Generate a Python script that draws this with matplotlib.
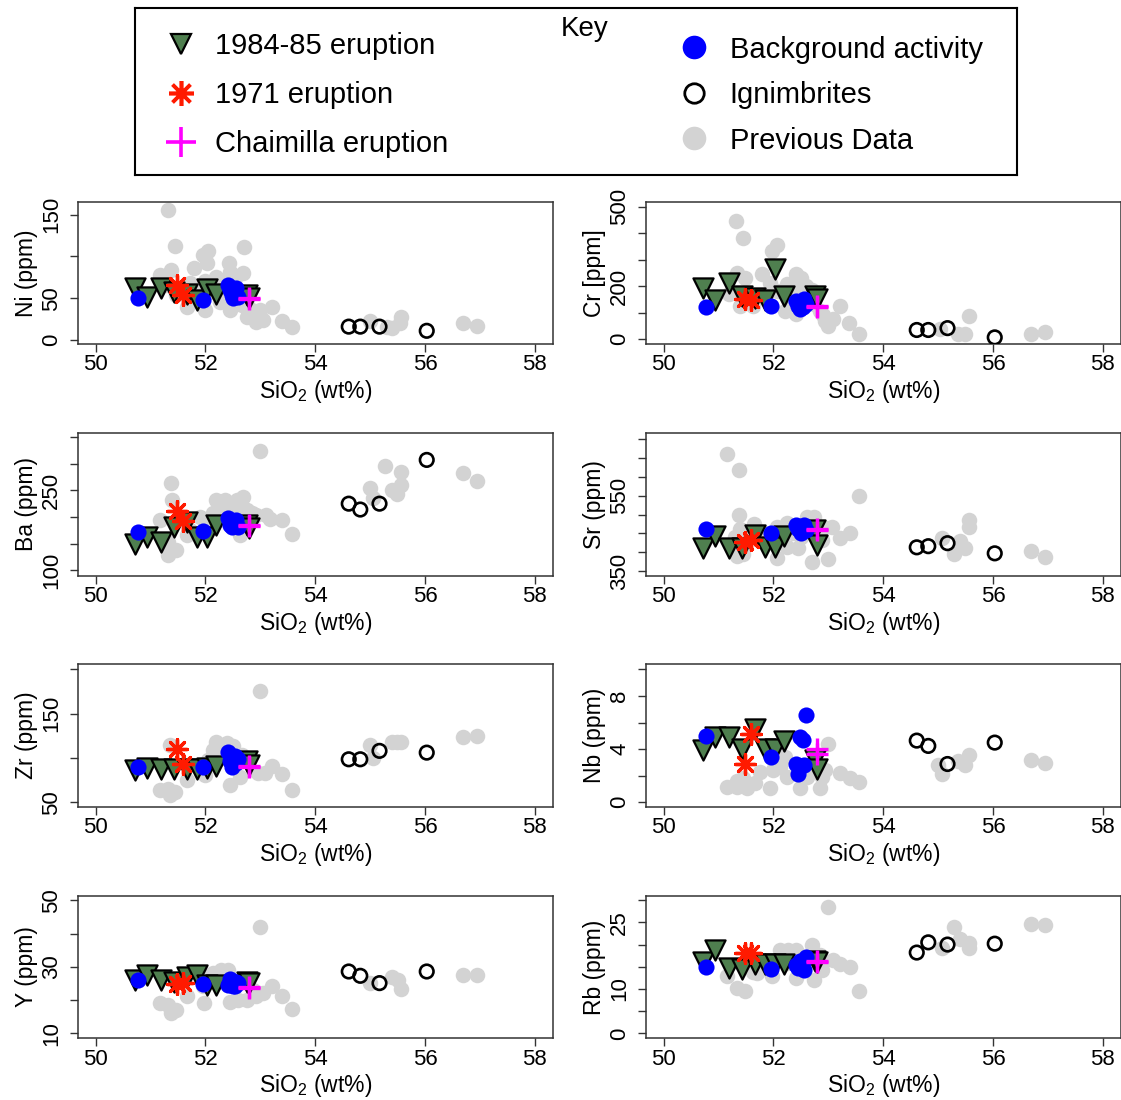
import matplotlib
matplotlib.use('Agg')
import matplotlib.pyplot as plt
from matplotlib.lines import Line2D

plt.rcParams['font.family'] = ['Liberation Sans', 'DejaVu Sans']
plt.rcParams['mathtext.default'] = 'regular'

# --- sample groups (SiO2 wt%) ---
sio2_8485 = [50.72, 50.94, 51.19, 51.42, 51.66, 51.85, 52.02, 52.2, 52.76, 52.8]
sio2_1971 = [51.48, 51.6]
sio2_chaim = [52.8, 52.8]
sio2_bg = [50.77, 51.95, 52.42, 52.45, 52.48, 52.5, 52.53, 52.56, 52.6]
sio2_ign = [54.61, 54.82, 55.17, 56.03]

# --- Ni ---
ni_8485 = [62, 52, 62, 58, 55, 48, 61, 55, 54, 50]
ni_1971 = [66, 54]
ni_chaim = [49, 50]
ni_bg = [50, 48, 66, 60, 54, 50, 58, 62, 52]
ni_ign = [16, 16, 16, 11]
prev_ni_x = [51.32, 51.44, 51.96, 52.05, 52.70, 52.03, 52.43, 51.80, 51.38, 51.17, 51.99, 52.20, 52.45, 52.69,
             52.36, 52.54, 51.29, 51.72, 51.47, 51.66, 51.99, 52.26, 52.45, 52.66, 52.75, 52.93, 53.05, 53.22,
             53.39, 53.57, 55.0, 55.39, 55.57, 55.54, 56.69, 56.94, 52.87, 52.99, 52.57, 52.14, 52.3, 52.6,
             52.8, 51.9, 55.3]
prev_ni = [156, 112, 102, 107, 111, 92, 92, 86, 84, 78, 71, 76, 82, 80, 72, 74, 66, 68, 54, 40, 36, 46, 36, 42,
           28, 22, 24, 40, 23, 15, 23, 14, 28, 20, 20, 17, 32, 36, 58, 58, 62, 48, 38, 64, 16]

# --- Cr ---
cr_8485 = [191, 146, 212, 162, 156, 146, 266, 162, 162, 150]
cr_1971 = [150, 146]
cr_chaim = [121, 125]
cr_bg = [119, 125, 144, 125, 112, 137, 119, 150, 131]
cr_ign = [34, 34, 41, 6]
prev_cr_x = [51.32, 51.45, 51.98, 52.07, 51.33, 51.48, 51.79, 51.93, 52.42, 52.51, 52.70, 52.24, 52.36, 51.39,
             51.63, 52.21, 52.42, 52.73, 52.85, 52.94, 53.0, 53.09, 53.21, 53.38, 53.56, 55.04, 55.37, 55.49,
             55.57, 56.69, 56.95, 52.07, 51.2, 52.6, 52.3, 52.9]
prev_cr = [446, 381, 334, 354, 250, 229, 246, 212, 244, 231, 187, 206, 187, 125, 125, 106, 94, 131, 106, 69, 50,
           75, 125, 59, 19, 37, 19, 19, 87, 19, 25, 181, 170, 200, 150, 90]

# --- Ba ---
ba_8485 = [150, 163, 153, 181, 190, 163, 163, 185, 185, 180]
ba_1971 = [211, 193]
ba_chaim = [183, 185]
ba_bg = [172, 174, 199, 185, 181, 188, 191, 194, 182]
ba_ign = [225, 214, 225, 307]
prev_ba_x = [52.99, 51.38, 51.40, 51.17, 51.32, 51.32, 51.47, 51.66, 52.20, 52.36, 52.57, 52.69, 52.14, 52.45,
             52.75, 52.93, 53.11, 53.17, 53.39, 53.57, 52.63, 52.69, 52.29, 51.90, 55.27, 55.57, 55.0, 55.06,
             55.39, 55.57, 55.48, 56.69, 56.94, 51.72, 52.05, 52.5, 52.85]
prev_ba = [324, 264, 232, 195, 153, 128, 138, 166, 232, 231, 232, 238, 207, 210, 213, 203, 203, 197, 194, 168,
           166, 216, 216, 200, 295, 285, 254, 235, 250, 260, 244, 283, 267, 175, 194, 222, 208]

# --- Sr ---
sr_8485 = [410, 443, 410, 410, 446, 415, 415, 443, 459, 419]
sr_1971 = [428, 432]
sr_chaim = [459, 461]
sr_bg = [462, 450, 472, 463, 459, 450, 463, 472, 460]
sr_ign = [413, 416, 424, 397]
prev_sr_x = [51.16, 51.38, 53.56, 51.38, 51.65, 51.39, 51.30, 51.33, 51.45, 52.06, 52.06, 52.24, 52.36, 52.61,
             52.73, 52.91, 53.06, 53.21, 53.40, 52.70, 53.0, 52.24, 52.45, 52.88, 52.12, 55.07, 55.28, 55.40,
             55.49, 55.57, 55.57, 56.69, 56.95, 52.5, 51.8]
prev_sr = [661, 620, 549, 499, 475, 463, 441, 390, 395, 384, 468, 477, 450, 494, 494, 468, 468, 437, 452, 375,
           381, 415, 410, 432, 432, 439, 395, 431, 410, 487, 466, 404, 386, 440, 455]

# --- Zr ---
zr_8485 = [86, 89, 88, 88, 88, 88, 89, 91, 96, 92]
zr_1971 = [110, 93]
zr_chaim = [90, 91]
zr_bg = [90, 90, 107, 96, 90, 100, 102, 94, 99]
zr_ign = [98.5, 98.5, 108, 106]
prev_zr_x = [52.99, 51.35, 52.2, 52.39, 52.14, 52.51, 52.66, 52.96, 53.08, 53.22, 53.39, 53.57, 52.45, 52.63,
             51.66, 51.99, 51.17, 51.32, 51.44, 51.35, 55.0, 55.06, 55.39, 55.57, 56.69, 56.94, 52.05, 52.32, 55.48]
prev_zr = [175, 115, 118.5, 117, 109, 113, 103, 83, 83, 91, 82, 64, 69, 79, 75, 81, 64, 65.5, 62, 58, 115, 100,
           118.5, 118.5, 124, 125, 98, 111, 118.5]

# --- Nb ---
nb_8485 = [3.9, 4.9, 4.9, 4.0, 5.5, 4.0, 4.0, 4.6, 3.2, 2.5]
nb_1971 = [2.9, 5.1]
nb_chaim = [3.6, 4.0]
nb_bg = [5.0, 3.4, 2.9, 2.1, 4.9, 2.7, 4.7, 2.8, 6.6]
nb_ign = [4.64, 4.24, 2.88, 4.49]
prev_nb_x = [53.0, 51.16, 51.33, 51.45, 51.66, 51.94, 51.76, 52.0, 52.12, 52.22, 52.24, 52.48, 52.85, 52.88,
             52.94, 53.21, 53.40, 53.56, 55.0, 55.07, 55.37, 55.49, 55.57, 56.69, 56.95, 52.61, 51.51, 51.33]
prev_nb = [4.39, 1.13, 1.63, 1.80, 1.43, 1.05, 2.31, 2.43, 2.68, 3.38, 1.93, 1.05, 1.05, 1.93, 2.43, 2.18, 1.80,
           1.55, 2.81, 2.13, 3.13, 2.81, 3.56, 3.18, 2.93, 1.93, 1.05, 1.18]

# --- Y ---
y_8485 = [26, 27.6, 25.9, 25.5, 27, 27.6, 24.6, 24.6, 25.3, 25]
y_1971 = [24.9, 25.1]
y_chaim = [23.6, 24]
y_bg = [25.9, 24.9, 24.6, 26.3, 25.6, 24.1, 24.1, 25.3, 25.1]
y_ign = [28.6, 27.3, 25.1, 28.6]
prev_y_x = [52.99, 52.14, 52.29, 52.41, 51.96, 51.66, 51.98, 52.45, 52.60, 52.75, 52.93, 53.05, 53.22, 53.39,
            53.57, 51.17, 51.32, 51.38, 51.47, 55.0, 55.39, 55.51, 55.57, 56.69, 56.94, 52.08, 52.87]
prev_y = [42.0, 28.1, 29.1, 29.1, 24.1, 21.1, 19.2, 19.5, 20.1, 20.1, 21.1, 22.1, 24.1, 21.1, 17.2, 19.0, 18.5,
          16.0, 17.0, 25.1, 26.9, 26.1, 23.3, 27.6, 27.6, 27.1, 23.1]

# --- Rb ---
rb_8485 = [16, 18.7, 14.7, 14.5, 15.7, 15.7, 15.7, 15.7, 16.2, 16]
rb_1971 = [18.2, 18.1]
rb_chaim = [16, 16.3]
rb_bg = [14.9, 14.5, 15.4, 14.7, 16.4, 15.1, 16.0, 14.3, 17.3]
rb_ign = [18.2, 20.5, 20.0, 20.2]
prev_rb_x = [53.0, 52.12, 52.27, 52.42, 52.70, 51.16, 51.33, 51.48, 51.63, 51.97, 52.42, 52.73, 52.88, 53.21,
             53.40, 53.56, 52.85, 53.09, 55.07, 55.28, 55.40, 55.57, 55.57, 56.69, 56.95, 51.70, 52.24]
prev_rb = [28.5, 18.7, 18.8, 18.7, 20.0, 13.0, 10.2, 9.6, 13.9, 13.0, 12.4, 12.1, 14.3, 15.7, 14.9, 9.6, 17.7,
           16.6, 19.2, 24.0, 21.3, 20.3, 19.2, 24.7, 24.5, 13.6, 15.8]

x_ticks = [50, 52, 54, 56, 58]

GREEN = '#4f7f4f'
GRAY = '#d3d3d3'

# label, values per group, previous data, ylim, y ticks, shown tick labels
panels = [
    ('Ni (ppm)', ni_8485, ni_1971, ni_chaim, ni_bg, ni_ign, prev_ni_x, prev_ni,
     (-4.8, 165.6), [0, 50, 100, 150], ['0', '50', '', '150']),
    ('Cr [ppm]', cr_8485, cr_1971, cr_chaim, cr_bg, cr_ign, prev_cr_x, prev_cr,
     (-19, 519), [0, 100, 200, 300, 400, 500], ['0', '', '200', '', '', '500']),
    ('Ba (ppm)', ba_8485, ba_1971, ba_chaim, ba_bg, ba_ign, prev_ba_x, prev_ba,
     (90, 358), [100, 150, 200, 250, 300, 350], ['100', '', '', '250', '', '']),
    ('Sr (ppm)', sr_8485, sr_1971, sr_chaim, sr_bg, sr_ign, prev_sr_x, prev_sr,
     (337.5, 718), [350, 400, 450, 500, 550, 600, 650, 700], ['350', '', '', '', '550', '', '', '']),
    ('Zr (ppm)', zr_8485, zr_1971, zr_chaim, zr_bg, zr_ign, prev_zr_x, prev_zr,
     (45, 206), [50, 100, 150, 200], ['50', '', '150', '']),
    ('Nb (ppm)', nb_8485, nb_1971, nb_chaim, nb_bg, nb_ign, prev_nb_x, prev_nb,
     (-0.33, 10.4), [0, 2, 4, 6, 8, 10], ['0', '', '4', '', '8', '']),
    ('Y (ppm)', y_8485, y_1971, y_chaim, y_bg, y_ign, prev_y_x, prev_y,
     (8.5, 51.4), [10, 20, 30, 40, 50], ['10', '', '30', '', '50']),
    ('Rb (ppm)', rb_8485, rb_1971, rb_chaim, rb_bg, rb_ign, prev_rb_x, prev_rb,
     (-1.1, 31.0), [0, 5, 10, 15, 20, 25, 30], ['0', '', '10', '', '', '25', '']),
]

W, H = 1121, 1100
fig = plt.figure(figsize=(W / 100, H / 100), dpi=100)

col_x = [78, 646]
col_w = 474.5
rows = [(201.7, 344), (432.7, 575.7), (664, 806.7), (895.7, 1038.3)]

for i, p in enumerate(panels):
    label, v8485, v1971, vchaim, vbg, vign, px, pv, ylim, yt, ytl = p
    top, bot = rows[i // 2]
    ax = fig.add_axes([col_x[i % 2] / W, 1 - bot / H, col_w / W, (bot - top) / H])

    ax.scatter(px, pv, s=125, c=GRAY, linewidths=0, zorder=1)
    ax.scatter(sio2_8485, v8485, marker='v', s=210, c=GREEN, edgecolors='black', linewidths=1.6, zorder=2)
    ax.scatter(sio2_1971, v1971, marker=(8, 2, 0), s=200, c='#ff1a00', linewidths=2.4, zorder=3)
    ax.scatter(sio2_bg, vbg, s=135, c='#0000ff', linewidths=0, zorder=4)
    ax.scatter(sio2_ign, vign, s=95, facecolors='none', edgecolors='black', linewidths=1.9, zorder=4)
    ax.scatter(sio2_chaim, vchaim, marker='+', s=260, c='#ff00ff', linewidths=2.4, zorder=5)

    ax.set_xlim(49.68, 58.32)
    ax.set_ylim(*ylim)
    ax.set_xticks(x_ticks)
    ax.set_xticklabels([str(t) for t in x_ticks])
    ax.set_yticks(yt)
    ax.set_yticklabels(ytl, rotation=90, va='center')
    ax.tick_params(direction='out', length=5.5, width=1.0, labelsize=16, color='#333333')
    ax.tick_params(axis='x', pad=2)
    ax.tick_params(axis='y', pad=6)
    for s in ax.spines.values():
        s.set_linewidth(1.1)
        s.set_color('#333333')
    ax.set_xlabel('SiO$_2$ (wt%)', fontsize=16.5, labelpad=2)
    ax.set_ylabel(label, fontsize=16.5, labelpad=2)

# key box
kx0, ky0, kx1, ky1 = 135, 8, 1017, 175
ax_key = fig.add_axes([kx0 / W, 1 - ky1 / H, (kx1 - kx0) / W, (ky1 - ky0) / H])
ax_key.set_xticks([])
ax_key.set_yticks([])
for s in ax_key.spines.values():
    s.set_linewidth(1.5)
    s.set_color('black')
ax_key.text(0.51, 0.875, 'Key', ha='center', va='center', fontsize=20)

left_handles = [
    Line2D([], [], ls='none', marker='v', ms=15, mfc=GREEN, mec='black', mew=1.6, label='1984-85 eruption'),
    Line2D([], [], ls='none', marker=(8, 2, 0), ms=18, color='#ff1a00', mew=2.6, label='1971 eruption'),
    Line2D([], [], ls='none', marker='+', ms=21, color='#ff00ff', mew=2.6, label='Chaimilla eruption'),
]
right_handles = [
    Line2D([], [], ls='none', marker='o', ms=17, mfc='#0000ff', mec='none', label='Background activity'),
    Line2D([], [], ls='none', marker='o', ms=14, mfc='none', mec='black', mew=2, label='Ignimbrites'),
    Line2D([], [], ls='none', marker='o', ms=17, mfc=GRAY, mec='none', label='Previous Data'),
]
leg1 = ax_key.legend(handles=left_handles, loc='upper left', bbox_to_anchor=(0.032, 0.855), frameon=False,
                     fontsize=21, borderpad=0, borderaxespad=0, handlelength=1.2, handletextpad=0.58,
                     labelspacing=0.72)
ax_key.add_artist(leg1)
ax_key.legend(handles=right_handles, loc='upper left', bbox_to_anchor=(0.614, 0.835), frameon=False,
              fontsize=21, borderpad=0, borderaxespad=0, handlelength=1.2, handletextpad=0.62,
              labelspacing=0.6)

fig.savefig('out.png', dpi=100)
